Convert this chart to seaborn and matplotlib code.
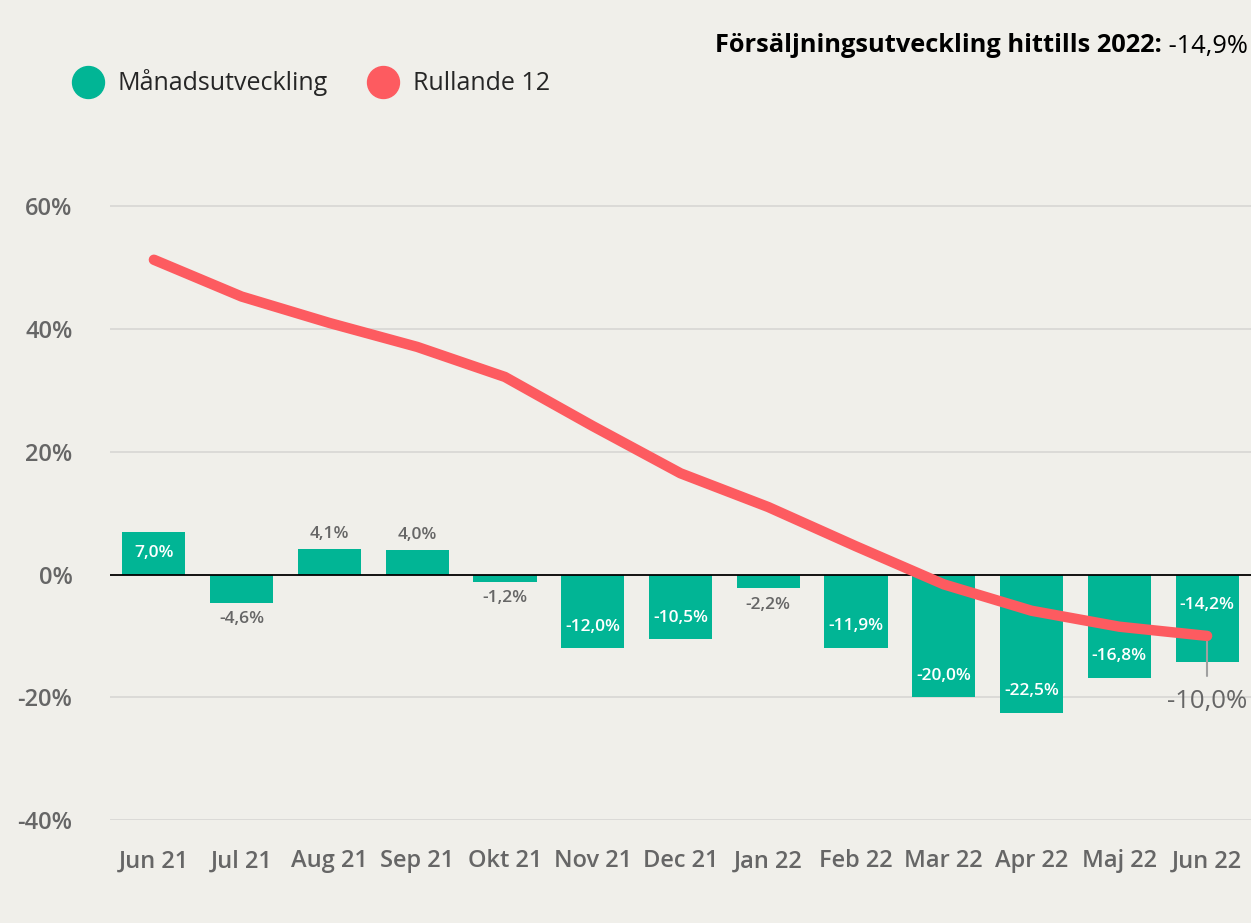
import numpy as np
import pandas as pd
import matplotlib
matplotlib.use("Agg")
import matplotlib.pyplot as plt
import seaborn as sns
from matplotlib.lines import Line2D

# Data
months = ["Jun 21", "Jul 21", "Aug 21", "Sep 21", "Okt 21", "Nov 21", "Dec 21",
          "Jan 22", "Feb 22", "Mar 22", "Apr 22", "Maj 22", "Jun 22"]
monthly = [7.0, -4.6, 4.1, 4.0, -1.2, -12.0, -10.5, -2.2, -11.9, -20.0, -22.5, -16.8, -14.2]
rolling = [51.3, 45.3, 41.0, 37.1, 32.2, 24.2, 16.5, 11.0, 4.6, -1.6, -5.9, -8.5, -10.0]
ytd_label = "-14,9%"

df = pd.DataFrame({"month": months, "monthly": monthly, "rolling": rolling})
df["pos"] = np.arange(len(df))

bg = "#F0EFEA"
teal = "#01B595"
red = "#FD5B60"
grey = "#666666"

sns.set_theme(style="white")
plt.rcParams["font.family"] = ["Open Sans", "DejaVu Sans"]

fig = plt.figure(figsize=(12.51, 9.23), dpi=100, facecolor=bg)
ax = fig.add_axes([110 / 1251, (923 - 820) / 923, 1141 / 1251, (820 - 145) / 923])
ax.set_facecolor(bg)

# grid
for g in [-40, -20, 20, 40, 60]:
    ax.axhline(g, color="#D9D8D5", lw=1.3, zorder=0)

sns.barplot(data=df, x="month", y="monthly", color=teal, width=0.72,
            saturation=1, linewidth=0, edgecolor=teal, ax=ax, zorder=2)
ax.axhline(0, color="black", lw=1.3, zorder=3)

sns.lineplot(data=df, x="pos", y="rolling", color=red, lw=7.5, ax=ax,
             zorder=4, solid_capstyle="round", solid_joinstyle="round")

# bar labels
for i, v in enumerate(monthly):
    txt = f"{v:.1f}%".replace(".", ",")
    if i == len(monthly) - 1:
        ax.text(i, -5.0, txt, ha="center", va="center", color="white",
                fontsize=12.5, fontweight="semibold", zorder=5)
    elif abs(v) >= 7:
        y = v + 3.5 if v < 0 else v - 3.5
        ax.text(i, y, txt, ha="center", va="center", color="white",
                fontsize=12.5, fontweight="semibold", zorder=5)
    else:
        y = v + 2.5 if v > 0 else v - 2.7
        ax.text(i, y, txt, ha="center", va="center", color=grey,
                fontsize=12.5, fontweight="semibold", zorder=5)

# last point label
last = len(rolling) - 1
ax.plot([last, last], [rolling[-1], rolling[-1] - 6.5], color="#A0A0A0", lw=1.5, zorder=3)
ax.text(last, rolling[-1] - 10.7, f"{rolling[-1]:.1f}%".replace(".", ","),
        ha="center", va="center", color=grey, fontsize=18.5)

ax.set_xlim(-0.5, len(months) - 0.5)
ax.set_ylim(-40, 70)
ax.set_yticks([-40, -20, 0, 20, 40, 60])
ax.set_yticklabels([f"{t}%" for t in [-40, -20, 0, 20, 40, 60]])
ax.set_xlabel("")
ax.set_ylabel("")
ax.tick_params(axis="y", length=0, pad=27, labelsize=17, labelcolor=grey)
ax.tick_params(axis="x", length=0, pad=21, labelsize=17, labelcolor=grey)
for lab in ax.get_xticklabels() + ax.get_yticklabels():
    lab.set_fontweight("semibold")
for s in ax.spines.values():
    s.set_visible(False)

# legend
handles = [Line2D([], [], marker="o", ls="", markersize=23, markerfacecolor=teal,
                  markeredgecolor=teal, label="Månadsutveckling"),
           Line2D([], [], marker="o", ls="", markersize=23, markerfacecolor=red,
                  markeredgecolor=red, label="Rullande 12")]
fig.legend(handles=handles, loc="center left", bbox_to_anchor=(63 / 1251, 1 - 83 / 923),
           ncol=2, frameon=False, fontsize=18, handletextpad=0.6, columnspacing=1.6,
           borderaxespad=0, handlelength=1.2)

# header text
fig.canvas.draw()
r = fig.canvas.get_renderer()
t2 = fig.text(1248 / 1251, 1 - 46 / 923, " " + ytd_label, ha="right", va="center",
              fontsize=18.3, color="black")
bb = t2.get_window_extent(renderer=r)
fig.text(bb.x0 / fig.bbox.width, 1 - 46 / 923, "Försäljningsutveckling hittills 2022:",
         ha="right", va="center", fontsize=18.3, fontweight="bold", color="black")

fig.savefig("out.png", dpi=100, facecolor=bg)
